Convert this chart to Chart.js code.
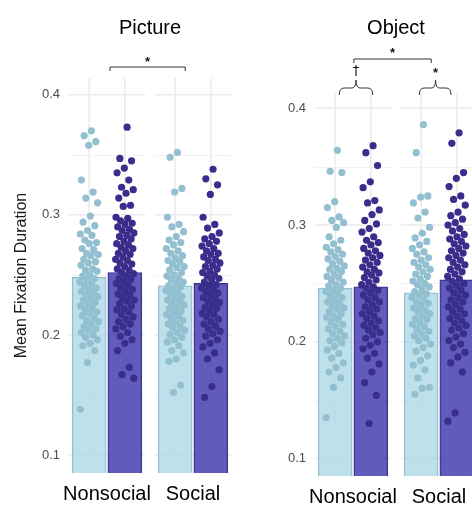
<!DOCTYPE html>
<html lang="en">
<head>
    <meta charset="UTF-8">
    <title>Mean Fixation Duration - Picture / Object</title>
    <script src="https://cdn.jsdelivr.net/npm/chart.js"></script>
    <style>
        body { margin: 0; background: #fff; width: 472px; height: 510px; overflow: hidden; position: relative; }
        .panel { position: absolute; top: 0; height: 510px; }
        #picturePanel { left: 0; width: 240px; }
        #objectPanel { left: 240px; width: 250px; }
    </style>
</head>
<body>
    <div class="panel" id="picturePanel"><canvas id="pictureChart"></canvas></div>
    <div class="panel" id="objectPanel"><canvas id="objectChart"></canvas></div>

    <script>
        // Categories and axis ticks
        const categories = ['Nonsocial', 'Social'];
        const tickValues = [0.1, 0.2, 0.3, 0.4];

        // Bar heights (means)
        const pictureMeanLight = [0.248, 0.241];
        const pictureMeanDark = [0.252, 0.243];
        const objectMeanLight = [0.246, 0.242];
        const objectMeanDark = [0.247, 0.253];

        // Individual points (per participant)
        const pictureNonsocialLight = [0.370, 0.366, 0.361, 0.358, 0.329, 0.319, 0.314, 0.310, 0.299, 0.294, 0.291, 0.287, 0.284, 0.283, 0.279, 0.277, 0.276, 0.272, 0.271, 0.268, 0.267, 0.266, 0.263, 0.261, 0.260, 0.258, 0.255, 0.254, 0.253, 0.250, 0.249, 0.247, 0.246, 0.244, 0.243, 0.241, 0.239, 0.238, 0.236, 0.235, 0.233, 0.232, 0.230, 0.229, 0.227, 0.226, 0.224, 0.222, 0.221, 0.219, 0.218, 0.216, 0.214, 0.212, 0.211, 0.209, 0.207, 0.205, 0.204, 0.202, 0.200, 0.198, 0.196, 0.193, 0.191, 0.187, 0.177, 0.138];
        const pictureNonsocialDark = [0.373, 0.347, 0.345, 0.339, 0.335, 0.329, 0.323, 0.321, 0.318, 0.314, 0.308, 0.307, 0.298, 0.297, 0.295, 0.293, 0.292, 0.290, 0.288, 0.287, 0.285, 0.283, 0.282, 0.280, 0.278, 0.276, 0.275, 0.273, 0.272, 0.270, 0.268, 0.267, 0.265, 0.263, 0.262, 0.260, 0.259, 0.257, 0.255, 0.254, 0.252, 0.251, 0.249, 0.247, 0.246, 0.244, 0.243, 0.241, 0.239, 0.238, 0.236, 0.234, 0.233, 0.231, 0.229, 0.228, 0.226, 0.224, 0.222, 0.221, 0.219, 0.217, 0.215, 0.213, 0.211, 0.209, 0.207, 0.205, 0.202, 0.199, 0.196, 0.193, 0.187, 0.173, 0.167, 0.164];
        const pictureSocialLight = [0.352, 0.348, 0.322, 0.319, 0.298, 0.292, 0.290, 0.286, 0.282, 0.279, 0.277, 0.275, 0.272, 0.270, 0.268, 0.266, 0.264, 0.262, 0.261, 0.259, 0.257, 0.256, 0.254, 0.252, 0.250, 0.249, 0.247, 0.246, 0.244, 0.243, 0.241, 0.240, 0.238, 0.237, 0.235, 0.234, 0.232, 0.231, 0.229, 0.228, 0.226, 0.225, 0.223, 0.222, 0.220, 0.219, 0.217, 0.216, 0.214, 0.212, 0.211, 0.209, 0.207, 0.206, 0.204, 0.202, 0.200, 0.198, 0.196, 0.194, 0.191, 0.187, 0.185, 0.180, 0.178, 0.158, 0.152];
        const pictureSocialDark = [0.338, 0.330, 0.325, 0.317, 0.298, 0.292, 0.289, 0.285, 0.282, 0.280, 0.278, 0.276, 0.274, 0.272, 0.270, 0.268, 0.267, 0.265, 0.263, 0.262, 0.260, 0.258, 0.257, 0.255, 0.253, 0.252, 0.250, 0.249, 0.247, 0.246, 0.244, 0.242, 0.241, 0.239, 0.238, 0.236, 0.235, 0.233, 0.231, 0.230, 0.228, 0.227, 0.225, 0.223, 0.222, 0.220, 0.218, 0.217, 0.215, 0.213, 0.211, 0.209, 0.207, 0.205, 0.203, 0.201, 0.199, 0.196, 0.193, 0.190, 0.185, 0.180, 0.171, 0.157, 0.148];
        const objectNonsocialLight = [0.364, 0.346, 0.345, 0.320, 0.315, 0.307, 0.304, 0.302, 0.298, 0.290, 0.287, 0.284, 0.281, 0.279, 0.277, 0.275, 0.273, 0.271, 0.269, 0.267, 0.265, 0.263, 0.262, 0.260, 0.258, 0.256, 0.255, 0.253, 0.251, 0.249, 0.248, 0.246, 0.244, 0.243, 0.241, 0.239, 0.238, 0.236, 0.234, 0.233, 0.231, 0.229, 0.228, 0.226, 0.224, 0.222, 0.221, 0.219, 0.217, 0.215, 0.213, 0.211, 0.209, 0.207, 0.205, 0.203, 0.201, 0.199, 0.196, 0.193, 0.190, 0.186, 0.182, 0.178, 0.174, 0.169, 0.161, 0.135];
        const objectNonsocialDark = [0.368, 0.362, 0.351, 0.337, 0.332, 0.321, 0.319, 0.313, 0.309, 0.304, 0.301, 0.297, 0.294, 0.290, 0.287, 0.285, 0.283, 0.280, 0.278, 0.276, 0.274, 0.272, 0.270, 0.268, 0.266, 0.264, 0.262, 0.260, 0.259, 0.257, 0.255, 0.253, 0.251, 0.249, 0.247, 0.246, 0.244, 0.242, 0.240, 0.238, 0.236, 0.234, 0.232, 0.230, 0.228, 0.226, 0.224, 0.222, 0.220, 0.218, 0.216, 0.214, 0.212, 0.210, 0.208, 0.206, 0.203, 0.200, 0.197, 0.194, 0.190, 0.186, 0.181, 0.174, 0.165, 0.154, 0.130];
        const objectSocialLight = [0.386, 0.362, 0.325, 0.324, 0.319, 0.311, 0.306, 0.298, 0.293, 0.289, 0.286, 0.283, 0.280, 0.277, 0.275, 0.272, 0.270, 0.268, 0.266, 0.264, 0.262, 0.260, 0.258, 0.256, 0.254, 0.252, 0.250, 0.249, 0.247, 0.245, 0.243, 0.241, 0.240, 0.238, 0.236, 0.234, 0.233, 0.231, 0.229, 0.227, 0.226, 0.224, 0.222, 0.220, 0.219, 0.217, 0.215, 0.213, 0.211, 0.209, 0.207, 0.205, 0.203, 0.201, 0.198, 0.195, 0.192, 0.188, 0.184, 0.180, 0.176, 0.169, 0.161, 0.160, 0.155];
        const objectSocialDark = [0.379, 0.370, 0.345, 0.340, 0.333, 0.325, 0.322, 0.317, 0.311, 0.308, 0.305, 0.302, 0.300, 0.297, 0.295, 0.292, 0.290, 0.288, 0.286, 0.284, 0.282, 0.280, 0.278, 0.276, 0.274, 0.272, 0.270, 0.268, 0.266, 0.264, 0.262, 0.260, 0.258, 0.256, 0.254, 0.252, 0.250, 0.248, 0.246, 0.244, 0.242, 0.240, 0.238, 0.236, 0.234, 0.232, 0.230, 0.228, 0.226, 0.224, 0.222, 0.220, 0.218, 0.216, 0.214, 0.212, 0.210, 0.207, 0.204, 0.201, 0.198, 0.195, 0.191, 0.187, 0.182, 0.174, 0.139, 0.132];

        // Styling
        const BAR_OFFSET = 0.2075;   // bar centre offset from category centre (category units)
        const JITTER = 0.11;
        const colors = {
            lightBar: 'rgba(173, 216, 230, 0.8)',
            lightBorder: '#8fb9c9',
            darkBar: 'rgba(75, 70, 178, 0.88)',
            darkBorder: '#37338a',
            lightPoint: '#93c0d0',
            darkPoint: '#3a2d8b',
            grid: '#ebebeb',
            minorGrid: '#f2f2f2'
        };

        Chart.defaults.font.family = "'Liberation Sans', Arial, sans-serif";
        Chart.defaults.animation = false;

        // deterministic horizontal spread of the points around a bar centre
        function jitterPoints(values, catIndex, side) {
            return values.map((v, i) => ({
                x: catIndex + side * BAR_OFFSET + ((((i + 1) * 0.6180339887) % 1) - 0.5) * 2 * JITTER,
                y: v
            }));
        }

        function barPoints(means, side) {
            return means.map((m, i) => ({ x: i + side * BAR_OFFSET, y: m }));
        }

        // ggplot-like faceted grid: broken horizontal lines, vertical lines at bar centres
        const facetGrid = {
            id: 'facetGrid',
            beforeDatasetsDraw(chart, args, opts) {
                const { ctx, chartArea, scales } = chart;
                const x = scales.x, y = scales.y;
                const minors = tickValues.slice(1).map((v, i) => (v + tickValues[i]) / 2);
                ctx.save();
                categories.forEach((c, i) => {
                    const x0 = x.getPixelForValue(i - opts.halfWidth);
                    const x1 = x.getPixelForValue(i + opts.halfWidth);
                    ctx.strokeStyle = colors.minorGrid;
                    ctx.lineWidth = 1;
                    minors.forEach(v => {
                        const py = Math.round(y.getPixelForValue(v)) + 0.5;
                        ctx.beginPath(); ctx.moveTo(x0, py); ctx.lineTo(x1, py); ctx.stroke();
                    });
                    ctx.strokeStyle = colors.grid;
                    ctx.lineWidth = 1.5;
                    tickValues.forEach(v => {
                        const py = y.getPixelForValue(v);
                        ctx.beginPath(); ctx.moveTo(x0, py); ctx.lineTo(x1, py); ctx.stroke();
                    });
                    [-1, 1].forEach(side => {
                        const px = x.getPixelForValue(i + side * BAR_OFFSET);
                        ctx.beginPath(); ctx.moveTo(px, chartArea.top); ctx.lineTo(px, chartArea.bottom); ctx.stroke();
                    });
                });
                ctx.restore();
            }
        };

        // significance brackets above the panels
        const brackets = {
            id: 'brackets',
            afterDatasetsDraw(chart, args, opts) {
                const { ctx, chartArea, scales } = chart;
                const x = scales.x;
                ctx.save();
                ctx.strokeStyle = '#333';
                ctx.lineWidth = 1;
                ctx.fillStyle = '#111';
                ctx.textAlign = 'center';
                ctx.textBaseline = 'middle';
                (opts.items || []).forEach(b => {
                    const xa = x.getPixelForValue(b.from);
                    const xb = x.getPixelForValue(b.to);
                    const y0 = chartArea.top + b.y;
                    let lx = (xa + xb) / 2;
                    ctx.beginPath();
                    if (b.kind === 'square') {
                        ctx.moveTo(xa, y0 + 4);
                        ctx.lineTo(xa, y0);
                        ctx.lineTo(xb, y0);
                        ctx.lineTo(xb, y0 + 4);
                    } else {
                        const xt = x.getPixelForValue(b.tip);
                        lx = xt;
                        ctx.moveTo(xa, y0 + 7);
                        ctx.quadraticCurveTo(xa, y0, xa + 5, y0);
                        ctx.lineTo(xt - 4, y0);
                        ctx.quadraticCurveTo(xt, y0, xt, y0 - 8);
                        ctx.quadraticCurveTo(xt, y0, xt + 4, y0);
                        ctx.lineTo(xb - 5, y0);
                        ctx.quadraticCurveTo(xb, y0, xb, y0 + 7);
                    }
                    ctx.stroke();
                    ctx.font = b.label === '*' ? "bold 13px 'Liberation Sans'" : "14px 'DejaVu Sans'";
                    ctx.fillText(b.label, lx, chartArea.top + b.labelY + (b.label === '*' ? 2 : 0));
                });
                ctx.restore();
            }
        };

        function makePanel(canvasId, p) {
            const pointSet = (vals, i, side, color) => ({
                type: 'scatter', data: jitterPoints(vals, i, side), backgroundColor: color,
                pointRadius: 3.6, borderWidth: 0, order: 1
            });
            return new Chart(document.getElementById(canvasId), {
                type: 'bar',
                data: {
                    datasets: [
                        { label: 'light', data: barPoints(p.meanLight, -1), backgroundColor: colors.lightBar, borderColor: colors.lightBorder, borderWidth: 1, grouped: false, barThickness: 34, order: 2 },
                        { label: 'dark', data: barPoints(p.meanDark, 1), backgroundColor: colors.darkBar, borderColor: colors.darkBorder, borderWidth: 1, grouped: false, barThickness: 34, order: 2 },
                        pointSet(p.points[0], 0, -1, colors.lightPoint),
                        pointSet(p.points[1], 0, 1, colors.darkPoint),
                        pointSet(p.points[2], 1, -1, colors.lightPoint),
                        pointSet(p.points[3], 1, 1, colors.darkPoint)
                    ]
                },
                options: {
                    responsive: true,
                    maintainAspectRatio: false,
                    layout: { padding: { left: 0, right: p.padRight, top: 0, bottom: 0 } },
                    scales: {
                        x: {
                            type: 'linear',
                            min: -0.5,
                            max: 1.5,
                            offset: false,
                            grid: { display: false, offset: false, drawTicks: false },
                            border: { display: false },
                            afterBuildTicks: s => { s.ticks = categories.map((c, i) => ({ value: i })); },
                            ticks: {
                                font: { size: 20 }, color: '#000', padding: 9,
                                maxRotation: 0, minRotation: 0, autoSkip: false,
                                callback: v => categories[v]
                            },
                            afterFit: s => { s.height = p.xHeight; }
                        },
                        y: {
                            min: 0.085,
                            max: 0.414,
                            grid: { display: false, drawTicks: false },
                            border: { display: false },
                            afterBuildTicks: s => { s.ticks = tickValues.map(v => ({ value: v })); },
                            ticks: { font: { size: 13 }, color: '#4d4d4d', padding: 4, callback: v => v.toFixed(1) },
                            title: { display: p.yTitle, text: 'Mean Fixation Duration', font: { size: 16 }, color: '#1a1a1a', padding: { top: 12, bottom: 0 } },
                            afterFit: s => { s.width = p.yWidth; }
                        }
                    },
                    plugins: {
                        legend: { display: false },
                        tooltip: { enabled: false },
                        title: {
                            display: true,
                            text: p.title,
                            fullSize: false,
                            color: '#000',
                            font: { size: 20, weight: 'normal' },
                            padding: { top: 16, bottom: p.titleGap }
                        },
                        facetGrid: { halfWidth: 0.445 },
                        brackets: { items: p.brackets }
                    }
                },
                plugins: [facetGrid, brackets]
            });
        }

        makePanel('pictureChart', {
            title: 'Picture',
            titleGap: 38,
            xHeight: 37,
            yWidth: 64,
            padRight: 1.5,
            yTitle: true,
            meanLight: pictureMeanLight,
            meanDark: pictureMeanDark,
            points: [pictureNonsocialLight, pictureNonsocialDark, pictureSocialLight, pictureSocialDark],
            brackets: [
                { kind: 'square', from: 0.035, to: 0.91, y: -11, label: '*', labelY: -18 }
            ]
        });

        makePanel('objectChart', {
            title: 'Object',
            titleGap: 52,
            xHeight: 34,
            yWidth: 70,
            padRight: 8,
            yTitle: false,
            meanLight: objectMeanLight,
            meanDark: objectMeanDark,
            points: [objectNonsocialLight, objectNonsocialDark, objectSocialLight, objectSocialDark],
            brackets: [
                { kind: 'square', from: 0.01, to: 0.91, y: -33, label: '*', labelY: -41 },
                { kind: 'brace', from: -0.16, to: 0.23, tip: 0.035, y: -4, label: '\u2020', labelY: -21 },
                { kind: 'brace', from: 0.77, to: 1.14, tip: 0.96, y: -4, label: '*', labelY: -21 }
            ]
        });
    </script>
</body>
</html>
